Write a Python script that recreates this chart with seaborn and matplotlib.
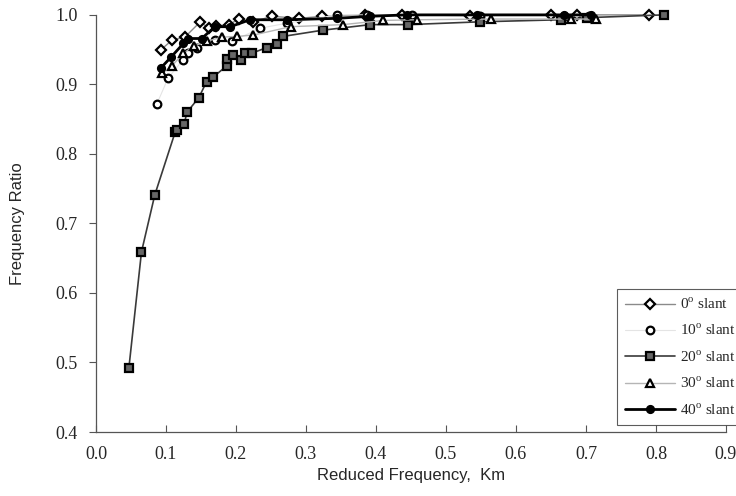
import numpy as np
import pandas as pd
import matplotlib
matplotlib.use("Agg")
import matplotlib.pyplot as plt
import seaborn as sns

# values
km_0 = [0.093, 0.109, 0.127, 0.149, 0.161, 0.172, 0.190, 0.204, 0.225, 0.251, 0.290, 0.323, 0.385, 0.437, 0.535, 0.650, 0.687, 0.790]
fr_0 = [0.950, 0.964, 0.968, 0.990, 0.981, 0.984, 0.986, 0.994, 0.990, 0.998, 0.995, 0.998, 1.000, 1.000, 0.999, 1.000, 1.000, 1.000]

km_10 = [0.087, 0.103, 0.124, 0.132, 0.144, 0.170, 0.194, 0.235, 0.273, 0.344, 0.387, 0.452, 0.549, 0.668, 0.704]
fr_10 = [0.872, 0.909, 0.935, 0.945, 0.953, 0.964, 0.962, 0.981, 0.988, 1.000, 1.000, 1.000, 0.999, 0.999, 0.998]

km_20 = [0.047, 0.065, 0.084, 0.113, 0.116, 0.126, 0.130, 0.147, 0.158, 0.167, 0.187, 0.187, 0.196, 0.207, 0.213,
         0.223, 0.244, 0.259, 0.267, 0.324, 0.392, 0.446, 0.548, 0.664, 0.702, 0.811]
fr_20 = [0.492, 0.659, 0.741, 0.831, 0.834, 0.843, 0.860, 0.881, 0.904, 0.910, 0.927, 0.936, 0.942, 0.935, 0.945,
         0.945, 0.953, 0.958, 0.969, 0.978, 0.986, 0.986, 0.990, 0.993, 0.996, 1.000]

km_30 = [0.094, 0.108, 0.125, 0.140, 0.158, 0.180, 0.201, 0.225, 0.278, 0.353, 0.410, 0.459, 0.564, 0.678, 0.715]
fr_30 = [0.916, 0.926, 0.945, 0.955, 0.962, 0.968, 0.969, 0.971, 0.983, 0.986, 0.992, 0.993, 0.994, 0.994, 0.994]

km_40 = [0.093, 0.107, 0.125, 0.132, 0.151, 0.170, 0.192, 0.220, 0.273, 0.344, 0.392, 0.444, 0.545, 0.669, 0.707]
fr_40 = [0.924, 0.939, 0.959, 0.966, 0.966, 0.983, 0.983, 0.993, 0.993, 0.995, 0.998, 1.000, 1.000, 1.000, 1.000]

labels = ["0$^{\\mathregular{o}}$ slant", "10$^{\\mathregular{o}}$ slant", "20$^{\\mathregular{o}}$ slant",
          "30$^{\\mathregular{o}}$ slant", "40$^{\\mathregular{o}}$ slant"]

sns.set_style("ticks")
plt.rcParams['font.family'] = ['Liberation Serif', 'DejaVu Serif']
plt.rcParams['mathtext.fontset'] = 'custom'
plt.rcParams['mathtext.rm'] = 'Liberation Serif'

fig = plt.figure(figsize=(7.36, 4.96), dpi=100)
ax = fig.add_axes([0.1304, 0.129, 0.856, 0.841])

# (x, y, marker, face, line colour, line width, marker size)
styles = [
    (km_0, fr_0, 'D', 'white', '#8a8a8a', 1.0, 5),
    (km_10, fr_10, 'o', 'white', '#e4e4e4', 0.8, 5.5),
    (km_20, fr_20, 's', '#666666', '#3a3a3a', 1.2, 5.5),
    (km_30, fr_30, '^', 'white', '#b5b5b5', 1.0, 6),
    (km_40, fr_40, 'o', 'black', 'black', 2.0, 5),
]

for (xs, ys, mk, face, lc, lw, ms), lab in zip(styles, labels):
    df = pd.DataFrame({'km': xs, 'ratio': ys})
    sns.lineplot(data=df, x='km', y='ratio', ax=ax, estimator=None, sort=True,
                 color=lc, linewidth=lw, marker=mk, markersize=ms,
                 markerfacecolor=face, markeredgecolor='black', markeredgewidth=1.6,
                 label=lab, clip_on=False)

ax.set_xlim(0, 0.9)
ax.set_ylim(0.4, 1.0)
ax.set_xticks(np.arange(0, 0.91, 0.1))
ax.set_yticks(np.arange(0.4, 1.01, 0.1))
ax.xaxis.set_major_formatter(matplotlib.ticker.FormatStrFormatter('%.1f'))
ax.yaxis.set_major_formatter(matplotlib.ticker.FormatStrFormatter('%.1f'))
ax.tick_params(axis='x', direction='in', length=5, labelsize=13, pad=10, color='#555555')
ax.tick_params(axis='y', direction='out', length=5, labelsize=13, pad=8, color='#555555')
sns.despine(ax=ax)
for s in ['left', 'bottom']:
    ax.spines[s].set_color('#555555')
    ax.spines[s].set_linewidth(0.9)

ax.set_xlabel("Reduced Frequency,  Km", family=['Liberation Sans'], fontsize=12, labelpad=4)
ax.set_ylabel("Frequency Ratio", family=['Liberation Sans'], fontsize=12, labelpad=22)

leg = ax.legend(loc='upper left', bbox_to_anchor=(0.827, 0.343), borderaxespad=0,
                fontsize=11, handlelength=3.3, handletextpad=0.3, labelspacing=0.72,
                borderpad=0.5, frameon=True, fancybox=False, edgecolor='#333333')
leg.get_frame().set_linewidth(0.8)

fig.savefig("out.png", dpi=100)
